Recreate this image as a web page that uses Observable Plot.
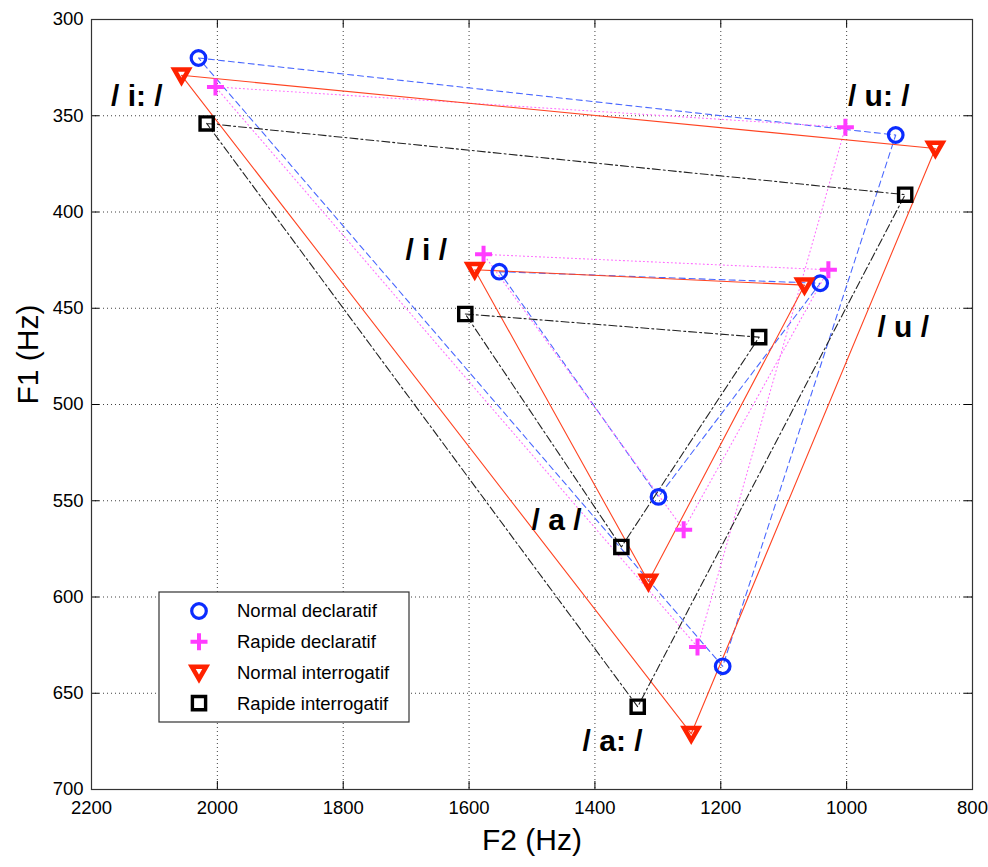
<!DOCTYPE html>
<html><head><meta charset="utf-8">
<script src="https://cdn.jsdelivr.net/npm/d3@7"></script>
<script src="https://cdn.jsdelivr.net/npm/@observablehq/plot@0.6"></script>
<style>
body{margin:0;background:#fff;}
svg{font-family:"Liberation Sans",Arial,Helvetica,sans-serif;}
</style>
</head><body><div id="chart"></div>
<script>
// ---- data ----
const vowels = ["/i:/", "/u:/", "/a:/", "/i/", "/u/", "/a/"];
const seriesNames = ["Normal declaratif", "Rapide declaratif", "Normal interrogatif", "Rapide interrogatif"];
const normalDeclF2 = [2030, 922, 1197, 1552, 1042, 1299];
const normalDeclF1 = [320, 360, 636, 431, 437, 548];
const rapideDeclF2 = [2003, 1002, 1237, 1577, 1029, 1259];
const rapideDeclF1 = [335, 356, 626, 422, 430, 565];
const normalInterF2 = [2057, 859, 1247, 1591, 1067, 1315];
const normalInterF1 = [329, 367, 671, 430, 438, 592];
const rapideInterF2 = [2017, 907, 1332, 1606, 1139, 1358];
const rapideInterF1 = [354, 391, 657, 453, 465, 574];
const labelText = ["/ i: /", "/ u: /", "/ a: /", "/ i /", "/ u /", "/ a /"];
const labelF2 = [2128, 949, 1372, 1668, 910, 1461];
const labelF1 = [340, 340, 675, 420, 460, 560];
const xTicks = [2200, 2000, 1800, 1600, 1400, 1200, 1000, 800];
const yTicks = [300, 350, 400, 450, 500, 550, 600, 650, 700];

// ---- symbols ----
const symTriDown = {draw(ctx, size) { const r = Math.sqrt(size / Math.PI);
  ctx.moveTo(-r, -0.8 * r); ctx.lineTo(r, -0.8 * r); ctx.lineTo(0, 0.95 * r); ctx.closePath(); }};
const symPlus = {draw(ctx, size) { const r = Math.sqrt(size / Math.PI);
  ctx.moveTo(-r, 0); ctx.lineTo(r, 0); ctx.moveTo(0, -r); ctx.lineTo(0, r); }};
const symSquare = {draw(ctx, size) { const r = Math.sqrt(size / Math.PI);
  ctx.rect(-r, -r, 2 * r, 2 * r); }};

const styles = [
  {F2: normalDeclF2, F1: normalDeclF1, line: "#4a68ff", dash: "6,4", mark: "#0b2cff", sym: "circle", r: 7.3, sw: 3.2},
  {F2: rapideDeclF2, F1: rapideDeclF1, line: "#ff70ff", dash: "1,3", mark: "#ff3cff", sym: symPlus, r: 8.5, sw: 4},
  {F2: normalInterF2, F1: normalInterF1, line: "#ff4422", dash: null, mark: "#ff2200", sym: symTriDown, r: 7.2, sw: 4.5},
  {F2: rapideInterF2, F1: rapideInterF1, line: "#222222", dash: "8,3,2,3", mark: "#000000", sym: symSquare, r: 6.6, sw: 3.4}
];

const triangles = [[0, 1, 2, 0], [3, 4, 5, 3]];
const marks = [];
const W = 988, H = 867, mL = 91, mR = 16, mT = 19, mB = 78;
const innerW = W - mL - mR, innerH = H - mT - mB;

marks.push(Plot.gridX(xTicks, {stroke: "#000", strokeOpacity: 0.75, strokeDasharray: "1,3"}));
marks.push(Plot.gridY(yTicks, {stroke: "#000", strokeOpacity: 0.75, strokeDasharray: "1,3"}));

styles.forEach((s) => {
  const rows = [];
  triangles.forEach((t, ti) => t.forEach(i => rows.push({tri: ti, F2: s.F2[i], F1: s.F1[i]})));
  marks.push(Plot.line(rows, {x: "F2", y: "F1", z: "tri", stroke: s.line, strokeWidth: 1.1,
    strokeDasharray: s.dash || undefined}));
});
styles.forEach((s) => {
  const pts = vowels.map((v, i) => ({vowel: v, F2: s.F2[i], F1: s.F1[i]}));
  marks.push(Plot.dot(pts, {x: "F2", y: "F1", symbol: s.sym, r: s.r, stroke: s.mark,
    strokeWidth: s.sw, fill: "none", strokeLinejoin: "miter"}));
});

const labels = labelText.map((t, i) => ({t, F2: labelF2[i], F1: labelF1[i]}));
marks.push(Plot.text(labels, {x: "F2", y: "F1", text: "t", fontSize: 30, fontWeight: "bold", fill: "#000"}));

// inward tick marks
marks.push(Plot.tickX(xTicks, {x: d => d, insetTop: innerH - 8, stroke: "#000"}));
marks.push(Plot.tickX(xTicks, {x: d => d, insetBottom: innerH - 8, stroke: "#000"}));
marks.push(Plot.tickY(yTicks, {y: d => d, insetRight: innerW - 8, stroke: "#000"}));
marks.push(Plot.tickY(yTicks, {y: d => d, insetLeft: innerW - 8, stroke: "#000"}));

marks.push(Plot.axisX(xTicks, {tickSize: 0, tickPadding: 11, fontSize: 18.5, label: null, tickFormat: d => String(d)}));
marks.push(Plot.axisY(yTicks, {tickSize: 0, tickPadding: 8, fontSize: 18.5, label: null, tickFormat: d => String(d)}));
marks.push(Plot.text(["F2 (Hz)"], {frameAnchor: "bottom", dy: 60, fontSize: 30, fill: "#000"}));
marks.push(Plot.text(["F1 (Hz)"], {frameAnchor: "left", dx: -63, rotate: -90, fontSize: 30, fill: "#000"}));
marks.push(Plot.frame({stroke: "#333", strokeWidth: 1.2}));

const plot = Plot.plot({
  width: W, height: H,
  marginLeft: mL, marginRight: mR, marginTop: mT, marginBottom: mB,
  x: {domain: [2200, 800]},
  y: {domain: [700, 300]},
  style: {fontFamily: '"Liberation Sans", Arial, sans-serif', color: "#000", background: "#fff"},
  marks
});
document.getElementById("chart").appendChild(plot);

// legend box (MATLAB style, inside the axes)
const svg = d3.select(plot);
const lg = svg.append("g").attr("transform", "translate(159,592)");
lg.append("rect").attr("width", 250).attr("height", 130).attr("fill", "#fff").attr("stroke", "#333").attr("stroke-width", 1.2);
seriesNames.forEach((name, i) => {
  const s = styles[i];
  const y = 19 + i * 30.7;
  const symType = s.sym === "circle" ? d3.symbolCircle : s.sym;
  lg.append("path").attr("transform", `translate(40,${y})`)
    .attr("d", d3.symbol(symType, Math.PI * s.r * s.r)())
    .attr("fill", "none").attr("stroke", s.mark).attr("stroke-width", s.sw).attr("stroke-linejoin", "miter");
  lg.append("text").attr("x", 78).attr("y", y).attr("dy", "0.35em")
    .attr("text-anchor", "start").style("text-anchor", "start")
    .attr("font-size", 18.5).attr("fill", "#000").text(name);
});
</script>
</body></html>
